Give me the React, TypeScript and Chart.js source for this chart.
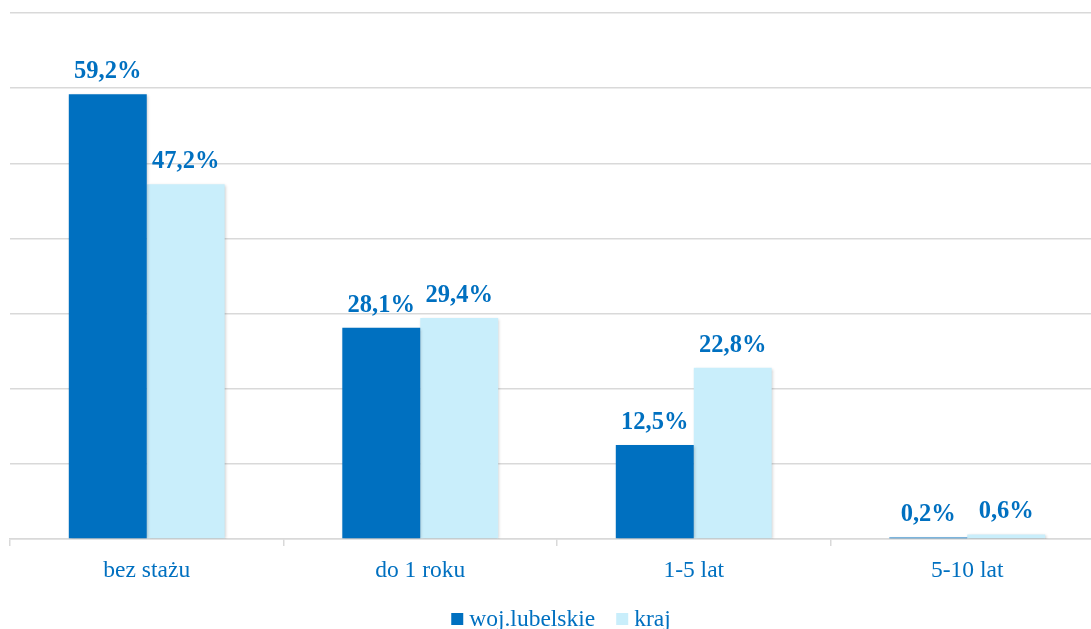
import React, { useEffect, useRef } from "react";
import { Chart, registerables } from "chart.js";

Chart.register(...registerables);

const categories = ["bez stażu", "do 1 roku", "1-5 lat", "5-10 lat"];
const seriesNames = ["woj.lubelskie", "kraj"];
const lubelskie = [59.2, 28.1, 12.5, 0.2];
const kraj = [47.2, 29.4, 22.8, 0.6];
const yTicks = [0, 10, 20, 30, 40, 50, 60, 70];

const DARK = "#0070C0";
const LIGHT = "#C9EEFB";
const LABEL = "#0070C0";
const GRID = "#D9D9D9";
const SERIF = "'Liberation Serif', 'Times New Roman', serif";

const CW = 1120;
const CH = 629;

const fmt = (v: number) => v.toFixed(1).replace(".", ",") + "%";

const shadowPlugin = {
  id: "barShadow",
  beforeDatasetsDraw(chart: any) {
    const ctx = chart.ctx;
    ctx.save();
    ctx.shadowColor = "rgba(0,0,0,0.22)";
    ctx.shadowBlur = 3;
    ctx.shadowOffsetX = 1;
    ctx.shadowOffsetY = 1;
  },
  afterDatasetsDraw(chart: any) {
    chart.ctx.restore();
  },
};

const labelsPlugin = {
  id: "valueLabels",
  afterDatasetsDraw(chart: any) {
    const ctx = chart.ctx;
    ctx.save();
    ctx.font = `bold 24.5px ${SERIF}`;
    ctx.fillStyle = LABEL;
    ctx.textAlign = "center";
    ctx.textBaseline = "alphabetic";
    chart.data.datasets.forEach((ds: any, di: number) => {
      const meta = chart.getDatasetMeta(di);
      meta.data.forEach((bar: any, i: number) => {
        ctx.fillText(fmt(ds.data[i]), bar.x, bar.y - 16);
      });
    });
    ctx.restore();
  },
};

const legendPlugin = {
  id: "customLegend",
  afterDraw(chart: any) {
    const ctx = chart.ctx;
    ctx.save();
    ctx.font = `23.5px ${SERIF}`;
    ctx.textBaseline = "alphabetic";
    const items = chart.data.datasets.map((d: any) => ({
      text: d.label,
      color: d.backgroundColor,
    }));
    const box = 12;
    const gapBox = 6;
    const gapItem = 21;
    let total = 0;
    items.forEach((it: any, i: number) => {
      total += box + gapBox + ctx.measureText(it.text).width;
      if (i < items.length - 1) total += gapItem;
    });
    let x = 561 - total / 2;
    const baseline = 626;
    items.forEach((it: any) => {
      ctx.fillStyle = it.color;
      ctx.fillRect(x, baseline - 13, box, box);
      x += box + gapBox;
      ctx.fillStyle = LABEL;
      ctx.fillText(it.text, x, baseline);
      x += ctx.measureText(it.text).width + gapItem;
    });
    ctx.restore();
  },
};

export default function App() {
  const ref = useRef<HTMLCanvasElement | null>(null);

  useEffect(() => {
    if (!ref.current) return;
    const chart = new Chart(ref.current, {
      type: "bar",
      data: {
        labels: categories,
        datasets: [
          {
            label: seriesNames[0],
            data: lubelskie,
            backgroundColor: DARK,
            categoryPercentage: 0.57,
            barPercentage: 1,
          },
          {
            label: seriesNames[1],
            data: kraj,
            backgroundColor: LIGHT,
            categoryPercentage: 0.57,
            barPercentage: 1,
          },
        ],
      },
      options: {
        responsive: false,
        animation: false,
        devicePixelRatio: 1,
        layout: { padding: { left: 10, right: CW - 1104, top: 13, bottom: 0 } },
        plugins: {
          legend: { display: false },
          tooltip: { enabled: false },
        },
        scales: {
          x: {
            grid: {
              offset: true,
              drawOnChartArea: false,
              drawTicks: true,
              tickLength: 7,
              color: GRID,
              lineWidth: 1.5,
            },
            border: { display: true, color: GRID, width: 1.5 },
            ticks: {
              color: LABEL,
              font: { family: SERIF, size: 23.5 },
              padding: 11,
              maxRotation: 0,
            },
            afterFit(scale: any) {
              scale.height = CH - 539;
            },
          },
          y: {
            min: 0,
            max: 70,
            afterBuildTicks(scale: any) {
              scale.ticks = yTicks.map((v) => ({ value: v }));
            },
            ticks: { display: false, stepSize: 10 },
            grid: { color: GRID, lineWidth: 1.5, drawTicks: false },
            border: { display: false },
            afterFit(scale: any) {
              scale.width = 0;
            },
          },
        },
      },
      plugins: [shadowPlugin, labelsPlugin, legendPlugin],
    });
    return () => chart.destroy();
  }, []);

  return (
    <div
      style={{
        position: "absolute",
        left: 0,
        top: 0,
        width: 1091,
        height: 629,
        overflow: "hidden",
        background: "#fff",
      }}
    >
      <canvas
        ref={ref}
        width={CW}
        height={CH}
        style={{ width: CW, height: CH, display: "block" }}
      />
    </div>
  );
}
